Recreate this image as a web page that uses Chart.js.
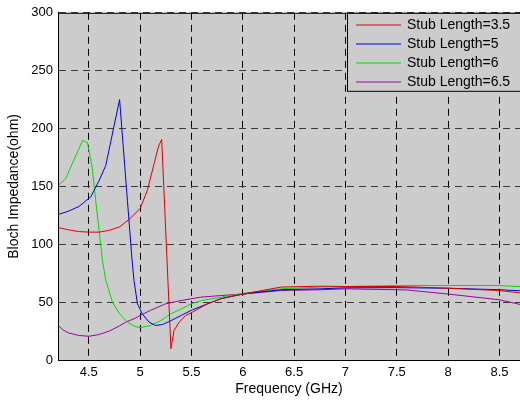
<!DOCTYPE html>
<html>
<head>
<meta charset="utf-8">
<script src="https://cdn.jsdelivr.net/npm/chart.js@4/dist/chart.umd.min.js"></script>
<style>
  html, body { margin: 0; padding: 0; background: #ffffff; }
  #wrap { width: 520px; height: 400px; }
</style>
</head>
<body>
<div id="wrap"><canvas id="chart" width="520" height="400"></canvas></div>
<script>
// Bloch impedance versus frequency for four stub lengths
const seriesLabels = ['Stub Length=3.5', 'Stub Length=5', 'Stub Length=6', 'Stub Length=6.5'];
const seriesColors = ['#dd0000', '#0000dd', '#00dd00', '#a000a0'];

const freq35 = [4.2, 4.3, 4.4, 4.5, 4.6, 4.7, 4.8, 4.9, 5.0, 5.07, 5.136, 5.18, 5.21, 5.30, 5.33, 5.38, 5.445, 5.51, 5.656, 5.786, 6.0, 6.37, 6.76, 7.0, 7.5, 7.7, 8.0, 8.5, 8.7];
const imp35  = [114.5, 112.5, 111, 110.5, 110.5, 112, 115, 122, 131, 146.5, 169.6, 185, 190.5, 9.7, 25.5, 32.7, 38.5, 41.3, 48.6, 53, 57, 63, 63.8, 63.5, 63.5, 63, 62, 60, 58];

const freq5 = [4.2, 4.3, 4.405, 4.52, 4.6, 4.665, 4.80, 4.876, 4.92, 4.94, 4.974, 5.02, 5.087, 5.15, 5.22, 5.3, 5.4, 5.51, 5.66, 5.79, 6.0, 6.37, 6.76, 7.0, 7.5, 8.0, 8.5, 8.7];
const imp5  = [125.7, 128.5, 132.7, 141, 155, 168, 225, 138, 88, 68.7, 48.6, 40, 32.7, 29.8, 30.7, 34, 38.5, 43.4, 48.6, 53, 57, 60.7, 61.5, 62.4, 62.5, 62, 60.7, 59.8];

const freq6 = [4.2, 4.275, 4.35, 4.44, 4.487, 4.535, 4.567, 4.6, 4.633, 4.666, 4.73, 4.8, 4.876, 4.95, 5.0, 5.1, 5.2, 5.3, 5.4, 5.5, 5.6, 5.79, 6.0, 6.37, 6.76, 7.0, 7.5, 8.0, 8.5, 8.55, 8.7];
const imp6  = [150.8, 156.6, 172, 189.7, 187.7, 165, 138, 112, 86, 68.7, 50, 40, 32.7, 29, 28, 29.8, 34, 40, 44, 48.6, 51.4, 54.3, 57.5, 61.5, 63, 63.5, 64.4, 64.4, 64.4, 64, 63.5];

const freq65 = [4.2, 4.25, 4.3, 4.4, 4.5, 4.6, 4.7, 4.8, 4.86, 4.95, 5.0, 5.1, 5.25, 5.4, 5.59, 5.79, 6.0, 6.37, 6.76, 7.0, 7.5, 7.6, 8.0, 8.5, 8.7];
const imp65  = [30, 26, 23.5, 21.2, 20.5, 22, 25, 29.5, 32.7, 36, 38.5, 42.8, 48.6, 51.4, 54.3, 55.7, 57, 60, 60.7, 61.5, 60.7, 60.5, 57, 52, 48];

const xTicks = [4.5, 5, 5.5, 6, 6.5, 7, 7.5, 8, 8.5];
const yTicks = [0, 50, 100, 150, 200, 250, 300];

const freqSets = [freq35, freq5, freq6, freq65];
const impSets = [imp35, imp5, imp6, imp65];

const datasets = seriesLabels.map((label, i) => ({
  label,
  data: freqSets[i].map((f, k) => ({ x: f, y: impSets[i][k] })),
  borderColor: seriesColors[i],
  backgroundColor: seriesColors[i],
  borderWidth: 1,
  pointRadius: 0,
  tension: 0,
  fill: false
}));

const FONT = 'Liberation Sans, Arial, sans-serif';

// Grey plot background, closing frame and boxed legend in the upper right
const plotDecor = {
  id: 'plotDecor',
  beforeDraw(chart) {
    const { ctx, chartArea: a } = chart;
    ctx.save();
    ctx.fillStyle = '#cccccc';
    ctx.fillRect(a.left, a.top, a.right - a.left, a.bottom - a.top);
    ctx.restore();
  },
  afterDraw(chart) {
    const { ctx, chartArea: a } = chart;
    ctx.save();
    ctx.strokeStyle = '#000000';
    ctx.lineWidth = 1;
    ctx.strokeRect(a.left + 0.5, a.top + 0.5, a.right - a.left, a.bottom - a.top);

    const boxLeft = a.right - 172.5;
    const boxTop = a.top + 0.5;
    const rowGap = 19;
    ctx.fillStyle = '#cccccc';
    ctx.fillRect(boxLeft, boxTop, 200, 78);
    ctx.strokeRect(boxLeft, boxTop, 200, 78);
    ctx.font = '14px ' + FONT;
    ctx.textBaseline = 'middle';
    ctx.textAlign = 'left';
    seriesLabels.forEach((label, i) => {
      const y = Math.round(boxTop + 11.5 + i * rowGap);
      ctx.strokeStyle = seriesColors[i];
      ctx.lineWidth = 1.2;
      ctx.beginPath();
      ctx.moveTo(boxLeft + 8.5, y);
      ctx.lineTo(boxLeft + 53.5, y);
      ctx.stroke();
      ctx.fillStyle = '#000000';
      ctx.fillText(label, boxLeft + 59.5, y + 0.5);
    });
    ctx.restore();
  }
};

new Chart(document.getElementById('chart'), {
  type: 'line',
  data: { datasets },
  options: {
    responsive: false,
    devicePixelRatio: 1,
    animation: false,
    layout: { padding: { top: 12, left: 0, right: 0, bottom: 0 } },
    plugins: { legend: { display: false }, tooltip: { enabled: false } },
    scales: {
      x: {
        type: 'linear',
        min: 4.2,
        max: 8.7,
        afterBuildTicks: s => { s.ticks = xTicks.map(v => ({ value: v })); },
        afterFit: s => { s.height = 40; },
        ticks: { font: { family: FONT, size: 13 }, color: '#000000', padding: 5, maxRotation: 0, callback: v => String(v) },
        grid: { color: '#000000', lineWidth: 1, drawTicks: false },
        border: { display: true, color: '#000000', width: 1, dash: [7, 5] },
        title: { display: true, text: 'Frequency (GHz)', color: '#000000', font: { family: FONT, size: 14 }, padding: { top: 0, bottom: 2 } }
      },
      y: {
        min: 0,
        max: 300,
        afterBuildTicks: s => { s.ticks = yTicks.map(v => ({ value: v })); },
        afterFit: s => { s.width = 58; },
        ticks: { font: { family: FONT, size: 13 }, color: '#000000', padding: 5, callback: v => String(v) },
        grid: { color: '#3a3a3a', lineWidth: 1, drawTicks: false },
        border: { display: true, color: '#000000', width: 1, dash: [7, 5] },
        title: { display: true, text: 'Bloch Impedance(ohm)', color: '#000000', font: { family: FONT, size: 14 }, padding: { top: 6, bottom: 0 } }
      }
    }
  },
  plugins: [plotDecor]
});
</script>
</body>
</html>
